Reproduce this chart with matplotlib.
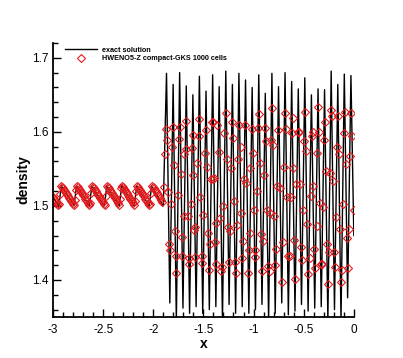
import numpy as np
import matplotlib
matplotlib.use("Agg")
import matplotlib.pyplot as plt
from matplotlib.ticker import MultipleLocator

plt.rcParams['font.family'] = ['Liberation Sans', 'DejaVu Sans']

# -------------------- DATA --------------------

# exact solution, smooth (left) part: sawtooth vertices
exact_left_x = [-3.000, -2.942, -2.917, -2.790, -2.765, -2.638, -2.612, -2.488,
                -2.463, -2.339, -2.314, -2.190, -2.165, -2.041, -2.016, -1.900]
exact_left_rho = [1.512, 1.500, 1.527, 1.500, 1.527, 1.500, 1.527, 1.500,
                  1.527, 1.500, 1.527, 1.500, 1.527, 1.500, 1.527, 1.500]

# exact solution, high-frequency part: peaks and troughs
peak_x = [-1.868, -1.802, -1.737, -1.671, -1.605, -1.540, -1.474, -1.408,
          -1.343, -1.277, -1.211, -1.146, -1.080, -1.014, -0.948, -0.883,
          -0.817, -0.751, -0.686, -0.620, -0.554, -0.489, -0.423, -0.357,
          -0.292, -0.226, -0.160, -0.095, -0.029]
peak_rho = [1.679, 1.664, 1.680, 1.662, 1.650, 1.675, 1.655, 1.677,
            1.661, 1.682, 1.664, 1.679, 1.670, 1.660, 1.677, 1.652,
            1.679, 1.661, 1.680, 1.668, 1.658, 1.673, 1.650, 1.658,
            1.657, 1.682, 1.664, 1.678, 1.676]
trough_x = [-1.835, -1.770, -1.704, -1.638, -1.573, -1.507, -1.441, -1.376,
            -1.310, -1.244, -1.179, -1.113, -1.047, -0.981, -0.916, -0.850,
            -0.784, -0.719, -0.653, -0.587, -0.522, -0.456, -0.390, -0.325,
            -0.259, -0.193, -0.128, -0.062, 0.000]
trough_rho = [1.369, 1.345, 1.362, 1.355, 1.364, 1.355, 1.360, 1.364,
              1.345, 1.367, 1.355, 1.364, 1.355, 1.360, 1.367, 1.345,
              1.355, 1.369, 1.353, 1.358, 1.367, 1.358, 1.362, 1.364,
              1.345, 1.360, 1.345, 1.376, 1.460]

# HWENO5-Z compact-GKS, 1000 cells
left_x = [-3.00, -2.99, -2.98, -2.97, -2.96, -2.95, -2.94, -2.93, -2.92, -2.91,
          -2.90, -2.89, -2.88, -2.87, -2.86, -2.85, -2.84, -2.83, -2.82, -2.81,
          -2.80, -2.79, -2.78, -2.77, -2.76, -2.75, -2.74, -2.73, -2.72, -2.71,
          -2.70, -2.69, -2.68, -2.67, -2.66, -2.65, -2.64, -2.63, -2.62, -2.61,
          -2.60, -2.59, -2.58, -2.57, -2.56, -2.55, -2.54, -2.53, -2.52, -2.51,
          -2.50, -2.49, -2.48, -2.47, -2.46, -2.45, -2.44, -2.43, -2.42, -2.41,
          -2.40, -2.39, -2.38, -2.37, -2.36, -2.35, -2.34, -2.33, -2.32, -2.31,
          -2.30, -2.29, -2.28, -2.27, -2.26, -2.25, -2.24, -2.23, -2.22, -2.21,
          -2.20, -2.19, -2.18, -2.17, -2.16, -2.15, -2.14, -2.13, -2.12, -2.11,
          -2.10, -2.09, -2.08, -2.07, -2.06, -2.05, -2.04, -2.03, -2.02, -2.01,
          -2.00, -1.99, -1.98, -1.97, -1.96, -1.95, -1.94, -1.93, -1.92, -1.91]
left_rho = [1.512, 1.510, 1.508, 1.505, 1.503, 1.501, 1.503, 1.516, 1.527, 1.526,
            1.524, 1.522, 1.520, 1.518, 1.516, 1.514, 1.511, 1.509, 1.507, 1.505,
            1.503, 1.501, 1.508, 1.522, 1.527, 1.525, 1.523, 1.521, 1.519, 1.517,
            1.515, 1.513, 1.510, 1.508, 1.506, 1.504, 1.501, 1.504, 1.518, 1.527,
            1.526, 1.524, 1.522, 1.520, 1.518, 1.515, 1.513, 1.511, 1.509, 1.507,
            1.505, 1.502, 1.501, 1.514, 1.527, 1.526, 1.524, 1.522, 1.519, 1.517,
            1.515, 1.513, 1.511, 1.509, 1.506, 1.504, 1.501, 1.510, 1.524, 1.527,
            1.525, 1.523, 1.521, 1.519, 1.517, 1.515, 1.512, 1.510, 1.508, 1.506,
            1.504, 1.501, 1.506, 1.520, 1.527, 1.525, 1.523, 1.521, 1.519, 1.517,
            1.515, 1.513, 1.510, 1.508, 1.506, 1.504, 1.501, 1.503, 1.518, 1.527,
            1.526, 1.524, 1.522, 1.520, 1.518, 1.515, 1.513, 1.511, 1.508, 1.505]

right_x = [-1.896, -1.886, -1.876, -1.866, -1.856, -1.843, -1.837, -1.827, -1.817, -1.803,
           -1.797, -1.787, -1.777, -1.770, -1.754, -1.740, -1.730, -1.727, -1.714, -1.711,
           -1.697, -1.691, -1.674, -1.671, -1.658, -1.648, -1.641, -1.628, -1.614, -1.608,
           -1.601, -1.591, -1.585, -1.581, -1.568, -1.548, -1.541, -1.532, -1.518, -1.512,
           -1.505, -1.488, -1.475, -1.465, -1.455, -1.445, -1.435, -1.429, -1.416, -1.409,
           -1.402, -1.396, -1.386, -1.379, -1.376, -1.362, -1.349, -1.336, -1.326, -1.316,
           -1.309, -1.293, -1.276, -1.266, -1.256, -1.246, -1.236, -1.227, -1.213, -1.203,
           -1.193, -1.183, -1.174, -1.164, -1.154, -1.144, -1.130, -1.124, -1.114, -1.101,
           -1.094, -1.081, -1.071, -1.054, -1.044, -1.038, -1.031, -1.018, -1.004, -0.998,
           -0.988, -0.981, -0.968, -0.955, -0.945, -0.935, -0.928, -0.918, -0.908, -0.898,
           -0.885, -0.875, -0.862, -0.852, -0.839, -0.832, -0.822, -0.815, -0.806, -0.792,
           -0.782, -0.772, -0.766, -0.756, -0.739, -0.716, -0.706, -0.696, -0.690, -0.680,
           -0.666, -0.653, -0.640, -0.630, -0.620, -0.607, -0.603, -0.593, -0.583, -0.573,
           -0.560, -0.550, -0.540, -0.527, -0.514, -0.507, -0.497, -0.484, -0.477, -0.467,
           -0.454, -0.441, -0.431, -0.421, -0.411, -0.408, -0.398, -0.385, -0.371, -0.365,
           -0.355, -0.345, -0.335, -0.325, -0.315, -0.305, -0.295, -0.285, -0.278, -0.265,
           -0.255, -0.245, -0.235, -0.229, -0.219, -0.209, -0.196, -0.186, -0.176, -0.166,
           -0.156, -0.146, -0.136, -0.126, -0.119, -0.109, -0.099, -0.090, -0.080, -0.070,
           -0.060, -0.050, -0.040, -0.027, -0.017, -0.003]
right_rho = [1.525, 1.570, 1.604, 1.589, 1.519, 1.449, 1.440, 1.502, 1.580, 1.606,
             1.555, 1.466, 1.410, 1.433, 1.515, 1.591, 1.607, 1.543, 1.458, 1.432,
             1.486, 1.570, 1.615, 1.577, 1.487, 1.421, 1.430, 1.502, 1.578, 1.596,
             1.542, 1.467, 1.471, 1.431, 1.558, 1.617, 1.595, 1.512, 1.423, 1.432,
             1.488, 1.571, 1.603, 1.552, 1.463, 1.413, 1.449, 1.537, 1.613, 1.537,
             1.613, 1.538, 1.451, 1.477, 1.422, 1.609, 1.573, 1.483, 1.412, 1.418,
             1.500, 1.598, 1.625, 1.563, 1.471, 1.424, 1.466, 1.551, 1.613, 1.592,
             1.506, 1.424, 1.410, 1.474, 1.563, 1.609, 1.580, 1.490, 1.429, 1.453,
             1.536, 1.609, 1.531, 1.409, 1.440, 1.463, 1.551, 1.604, 1.572, 1.494,
             1.431, 1.440, 1.520, 1.605, 1.624, 1.558, 1.462, 1.412, 1.453, 1.542,
             1.605, 1.587, 1.494, 1.419, 1.412, 1.490, 1.589, 1.632, 1.582, 1.486,
             1.420, 1.442, 1.527, 1.603, 1.524, 1.397, 1.451, 1.553, 1.625, 1.604,
             1.512, 1.433, 1.433, 1.512, 1.598, 1.619, 1.551, 1.454, 1.401, 1.529,
             1.600, 1.600, 1.530, 1.444, 1.427, 1.495, 1.587, 1.627, 1.574, 1.476,
             1.408, 1.429, 1.514, 1.594, 1.600, 1.527, 1.442, 1.416, 1.473, 1.571,
             1.633, 1.600, 1.504, 1.421, 1.422, 1.499, 1.589, 1.613, 1.547, 1.448,
             1.394, 1.438, 1.545, 1.630, 1.621, 1.533, 1.438, 1.418, 1.485, 1.580,
             1.622, 1.570, 1.469, 1.397, 1.414, 1.502, 1.599, 1.627, 1.557, 1.457,
             1.416, 1.469, 1.567, 1.626, 1.594, 1.494]

x_ticks = [-3, -2.5, -2, -1.5, -1, -0.5, 0]
x_tick_labels = ['-3', '-2.5', '-2', '-1.5', '-1', '-0.5', '0']
y_ticks = [1.4, 1.5, 1.6, 1.7]
y_tick_labels = ['1.4', '1.5', '1.6', '1.7']

# -------------------- PLOT --------------------

# join the sawtooth and the peak/trough vertices into one curve
hf_x = np.array(peak_x + trough_x)
hf_rho = np.array(peak_rho + trough_rho)
order = np.argsort(hf_x)
exact_x = np.concatenate([exact_left_x, hf_x[order]])
exact_rho = np.concatenate([exact_left_rho, hf_rho[order]])

num_x = np.array(left_x + right_x)
num_rho = np.array(left_rho + right_rho)

fig = plt.figure(figsize=(4.03, 3.58), dpi=100)
ax = fig.add_axes([0.1315, 0.1145, 0.7465, 0.7655])

ax.plot(exact_x, exact_rho, color='black', lw=1.0, label='exact solution')
ax.plot(num_x, num_rho, linestyle='none', marker='D', markersize=3.8,
        markerfacecolor='none', markeredgecolor='#e31a1c', markeredgewidth=0.8,
        label='HWENO5-Z compact-GKS 1000 cells')

ax.set_xlim(-3, 0)
ax.set_ylim(1.35, 1.72)

ax.set_xticks(x_ticks)
ax.set_xticklabels(x_tick_labels)
ax.set_yticks(y_ticks)
ax.set_yticklabels(y_tick_labels)
ax.xaxis.set_minor_locator(MultipleLocator(0.1))
ax.yaxis.set_minor_locator(MultipleLocator(0.02))

for side in ['top', 'right']:
    ax.spines[side].set_visible(False)
for side in ['left', 'bottom']:
    ax.spines[side].set_linewidth(1.3)

ax.tick_params(which='both', direction='in', labelsize=8.5, width=1.0)
ax.tick_params(which='major', length=6)
ax.tick_params(which='minor', length=3.5)
ax.tick_params(axis='x', pad=5)

ax.set_xlabel('x', fontsize=10, fontweight='bold', labelpad=1)
ax.set_ylabel('density', fontsize=10, fontweight='bold', labelpad=1)

ax.legend(loc='upper left', bbox_to_anchor=(0.027, 1.0), frameon=False,
          prop={'size': 5.2, 'weight': 'bold'}, handlelength=4.4,
          handletextpad=0.8, labelspacing=0.25, borderpad=0, numpoints=1)

fig.savefig('out.png', dpi=100)
